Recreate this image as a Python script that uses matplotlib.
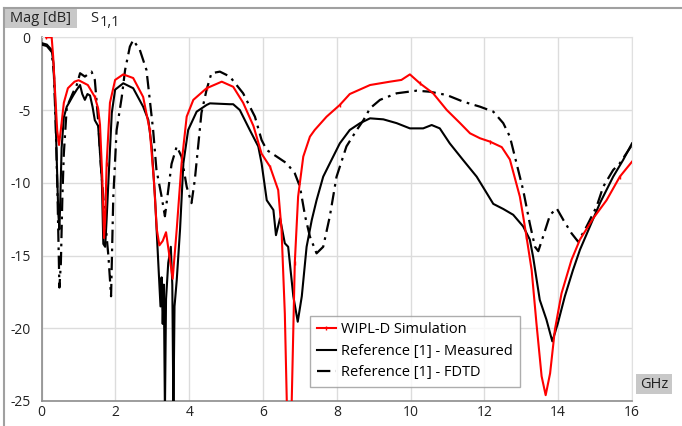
import matplotlib
matplotlib.use("Agg")
import matplotlib.pyplot as plt
from matplotlib.patches import Rectangle
from matplotlib.lines import Line2D

plt.rcParams['font.family'] = ['Open Sans', 'DejaVu Sans']

# ---------------- data ----------------
wipl_f = [0.12, 0.27, 0.31, 0.37, 0.42, 0.47, 0.53, 0.6, 0.71, 0.89, 1.0, 1.25, 1.44, 1.53, 1.58,
          1.64, 1.69, 1.72, 1.76, 1.85, 1.99, 2.21, 2.48, 2.75, 2.93, 3.04, 3.12, 3.19, 3.28, 3.37,
          3.46, 3.55, 3.66, 3.79, 3.93, 4.11, 4.47, 4.88, 5.19, 5.46, 5.74, 5.96, 6.19, 6.41, 6.5,
          6.59, 6.65, 6.77, 6.86, 6.95, 7.09, 7.27, 7.4, 7.72, 8.08, 8.35, 8.9, 9.44, 9.75, 9.98,
          10.25, 10.61, 10.98, 11.34, 11.61, 11.88, 12.15, 12.47, 12.69, 12.87, 12.96, 13.05, 13.14,
          13.28, 13.41, 13.55, 13.66, 13.78, 13.91, 14.09, 14.36, 14.59, 14.95, 15.31, 15.67, 16.0]
wipl_db = [0, 0, -1.3, -4.1, -6.4, -7.4, -6.1, -4.5, -3.5, -3.05, -2.95, -3.28, -4.1, -4.9, -6.0,
           -9.5, -13.8, -12.5, -8.7, -4.5, -2.93, -2.55, -2.8, -4.1, -6.4, -9.8, -13.2, -14.3, -14.0, -13.4,
           -15.0, -16.6, -13.2, -8.7, -5.45, -4.3, -3.5, -3.05, -3.4, -4.5, -6.1, -8.0, -8.9, -10.5, -13.2,
           -19.0, -25.8, -25.8, -15.5, -10.95, -8.2, -6.83, -6.37, -5.46, -4.65, -3.9, -3.28, -3.05, -2.93, -2.55,
           -3.16, -3.85, -5.0, -5.9, -6.6, -6.94, -7.17, -7.55, -8.4, -10.1, -10.95, -12.3, -13.7,
           -16.0, -19.66, -23.3, -24.6, -23.1, -20.1, -17.6, -15.3, -13.9, -12.44, -11.2, -9.58, -8.55]

meas_f = [0, 0.14, 0.27, 0.32, 0.36, 0.41, 0.45, 0.48, 0.5, 0.54, 0.6, 0.68, 0.86, 0.95, 1.04,
          1.1, 1.17, 1.24, 1.31, 1.38, 1.44, 1.53, 1.63, 1.67, 1.72, 1.76, 1.81, 1.9, 1.99, 2.21,
          2.48, 2.75, 2.89, 2.98, 3.07, 3.16, 3.22, 3.25, 3.28, 3.31, 3.34, 3.37, 3.43, 3.5, 3.54,
          3.57, 3.6, 3.66, 3.75, 3.84, 3.97, 4.2, 4.47, 4.56, 5.1, 5.19, 5.37, 5.64, 5.87, 5.96,
          6.1, 6.28, 6.35, 6.46, 6.59, 6.68, 6.82, 6.94, 7.05, 7.18, 7.32, 7.45, 7.63, 7.81, 8.08,
          8.35, 8.63, 8.9, 9.26, 9.62, 9.98, 10.34, 10.57, 10.79, 11.06, 11.42, 11.79, 12.06, 12.24,
          12.51, 12.78, 13.05, 13.23, 13.32, 13.5, 13.68, 13.84, 13.99, 14.18, 14.4, 14.59, 14.86,
          15.13, 15.49, 15.76, 16.0]
meas_db = [-0.4, -0.5, -0.87, -1.8, -4.1, -8.6, -12.1, -13.2, -11.5, -7.6, -5.5, -4.77, -3.97, -3.6, -3.28,
           -3.9, -4.3, -3.9, -4.0, -4.8, -5.7, -6.1, -9.8, -14.2, -14.4, -12.5, -9.8, -5.2, -3.6, -3.16,
           -3.5, -4.77, -5.68, -7.5, -10.95, -15.5, -18.5, -16.5, -19.7, -17.0, -25.8, -18.0, -15.5, -14.4, -17.0,
           -25.8, -18.5, -16.7, -13.2, -8.66, -6.37, -5.11, -4.65, -4.54, -4.6, -4.6, -5.0, -6.37, -7.5, -8.66,
           -11.2, -11.87, -13.6, -12.44, -14.16, -14.4, -17.8, -19.55, -17.8, -14.4, -12.56, -11.2, -9.58, -8.66, -7.29,
           -6.37, -5.9, -5.57, -5.64, -5.9, -6.26, -6.26, -6.03, -6.26, -7.29, -8.43, -9.58, -10.7, -11.45,
           -11.8, -12.2, -13.0, -13.9, -15.1, -18.05, -19.4, -20.9, -19.66, -17.8, -16.0, -14.6, -13.0,
           -11.4, -9.58, -8.43, -7.29]

fdtd_f = [0, 0.14, 0.27, 0.33, 0.38, 0.43, 0.48, 0.52, 0.56, 0.6, 0.68, 0.85, 0.95, 1.04, 1.17,
          1.35, 1.44, 1.53, 1.6, 1.7, 1.81, 1.88, 1.94, 2.03, 2.17, 2.26, 2.39, 2.48, 2.66, 2.84,
          2.93, 3.02, 3.11, 3.25, 3.34, 3.43, 3.52, 3.66, 3.79, 3.93, 4.06, 4.15, 4.24, 4.33, 4.47,
          4.6, 4.83, 5.1, 5.46, 5.78, 5.96, 6.1, 6.37, 6.64, 6.86, 7.0, 7.14, 7.27, 7.45, 7.63,
          7.81, 7.99, 8.26, 8.54, 8.72, 8.9, 9.17, 9.62, 10.16, 10.52, 10.98, 11.42, 11.88, 12.24,
          12.51, 12.69, 12.87, 13.05, 13.23, 13.37, 13.46, 13.59, 13.78, 13.96, 14.14, 14.36, 14.54,
          14.77, 15.04, 15.22, 15.49, 15.67, 15.85, 16.0]
fdtd_db = [-0.5, -0.6, -1.0, -2.5, -6.0, -11.0, -17.2, -15.5, -11.0, -8.0, -4.8, -3.8, -3.28, -2.47, -2.7,
           -2.36, -2.93, -5.7, -8.7, -12.0, -15.1, -17.8, -11.0, -6.4, -4.1, -2.25, -0.64, -0.19, -0.87, -2.25,
           -4.3, -6.37, -9.1, -10.95, -12.3, -10.5, -8.7, -7.5, -8.2, -10.27, -11.4, -9.8, -7.5, -5.2, -3.6,
           -2.47, -2.36, -2.7, -3.85, -5.46, -7.06, -7.75, -8.2, -8.66, -9.35, -10.27, -12.3, -13.7, -14.85, -14.4,
           -12.3, -9.6, -7.5, -6.37, -5.7, -4.88, -4.3, -3.85, -3.67, -3.74, -3.97, -4.42, -4.77, -5.11,
           -5.9, -6.83, -8.66, -10.5, -12.8, -14.4, -14.7, -13.7, -12.2, -11.76, -12.56, -13.47, -14.05,
           -13.0, -11.64, -10.27, -9.12, -8.66, -7.97, -7.4]

labels = ["WIPL-D Simulation", "Reference [1] - Measured", "Reference [1] - FDTD"]
x_ticks = [0, 2, 4, 6, 8, 10, 12, 14, 16]
y_ticks = [0, -5, -10, -15, -20, -25]

# ---------------- figure ----------------
W, H = 682, 426
fig = plt.figure(figsize=(W / 100, H / 100), dpi=100)
fig.patch.set_facecolor('white')

def fx(px):
    return px / W

def fy(py):
    return 1 - py / H

ax_l, ax_r, ax_t, ax_b = 41.7, 632.0, 37.3, 401.0
ax = fig.add_axes([fx(ax_l), fy(ax_b), (ax_r - ax_l) / W, (ax_b - ax_t) / H])

ax.plot(wipl_f, wipl_db, color='#ff0000', lw=1.5, marker='|', markersize=3, markevery=6,
        zorder=4, solid_joinstyle='round')
ax.plot(meas_f, meas_db, color='black', lw=1.5, zorder=3)
ax.plot(fdtd_f, fdtd_db, color='black', lw=1.6, linestyle=(0, (6, 2.5, 1.2, 2.5)), zorder=3)

ax.set_xlim(0, 16)
ax.set_ylim(-25, 0)
ax.set_xticks(x_ticks)
ax.set_yticks(y_ticks)
ax.set_xticklabels([str(v) for v in x_ticks])
ax.set_yticklabels([str(v) for v in y_ticks])
ax.tick_params(axis='both', length=0, labelsize=10, colors='#222222')
ax.tick_params(axis='x', pad=3)
ax.tick_params(axis='y', pad=8)
ax.grid(True, color='#dcdcdc', lw=1)
ax.set_axisbelow(True)
for side in ['top', 'right']:
    ax.spines[side].set_color('#e0e0e0')
for side in ['left', 'bottom']:
    ax.spines[side].set_color('#8c8c8c')
    ax.spines[side].set_linewidth(1.2)

handles = [
    Line2D([], [], color='#ff0000', lw=1.5, marker='|', markersize=3),
    Line2D([], [], color='black', lw=1.5),
    Line2D([], [], color='black', lw=1.6, linestyle=(0, (6, 2.5, 1.2, 2.5))),
]
leg = ax.legend(handles, labels, loc='lower left',
                bbox_to_anchor=((310 - ax_l) / (ax_r - ax_l), (ax_b - 387) / (ax_b - ax_t)),
                borderaxespad=0, fontsize=10.5, frameon=True, fancybox=False,
                handlelength=1.3, handletextpad=0.4, labelspacing=0.45,
                borderpad=0.45, edgecolor='#999999')
leg.get_frame().set_linewidth(1.0)

# outer frame (top and left)
fig.add_artist(Line2D([fx(4), fx(W)], [fy(8), fy(8)], color='#a0a0a0', lw=1.5))
fig.add_artist(Line2D([fx(4), fx(4)], [fy(8), fy(H)], color='#a0a0a0', lw=1.5))

# Mag [dB] label box
fig.add_artist(Rectangle((fx(5), fy(28)), (77 - 5) / W, (28 - 9) / H,
                         facecolor='#c8c8c8', edgecolor='none', transform=fig.transFigure))
fig.text(fx(41), fy(18.5), "Mag [dB]", ha='center', va='center', fontsize=10.5, color='#222222')
fig.text(fx(90), fy(18), "S", ha='left', va='center', fontsize=10.5, color='#222222')
fig.text(fx(100), fy(22), "1,1", ha='left', va='center', fontsize=10.5, color='#222222')

# GHz label box
fig.add_artist(Rectangle((fx(636), fy(394)), (672 - 636) / W, (394 - 374) / H,
                         facecolor='#c8c8c8', edgecolor='none', transform=fig.transFigure))
fig.text(fx(654), fy(384), "GHz", ha='center', va='center', fontsize=10.5, color='#222222')

fig.savefig('out.png', dpi=100)
